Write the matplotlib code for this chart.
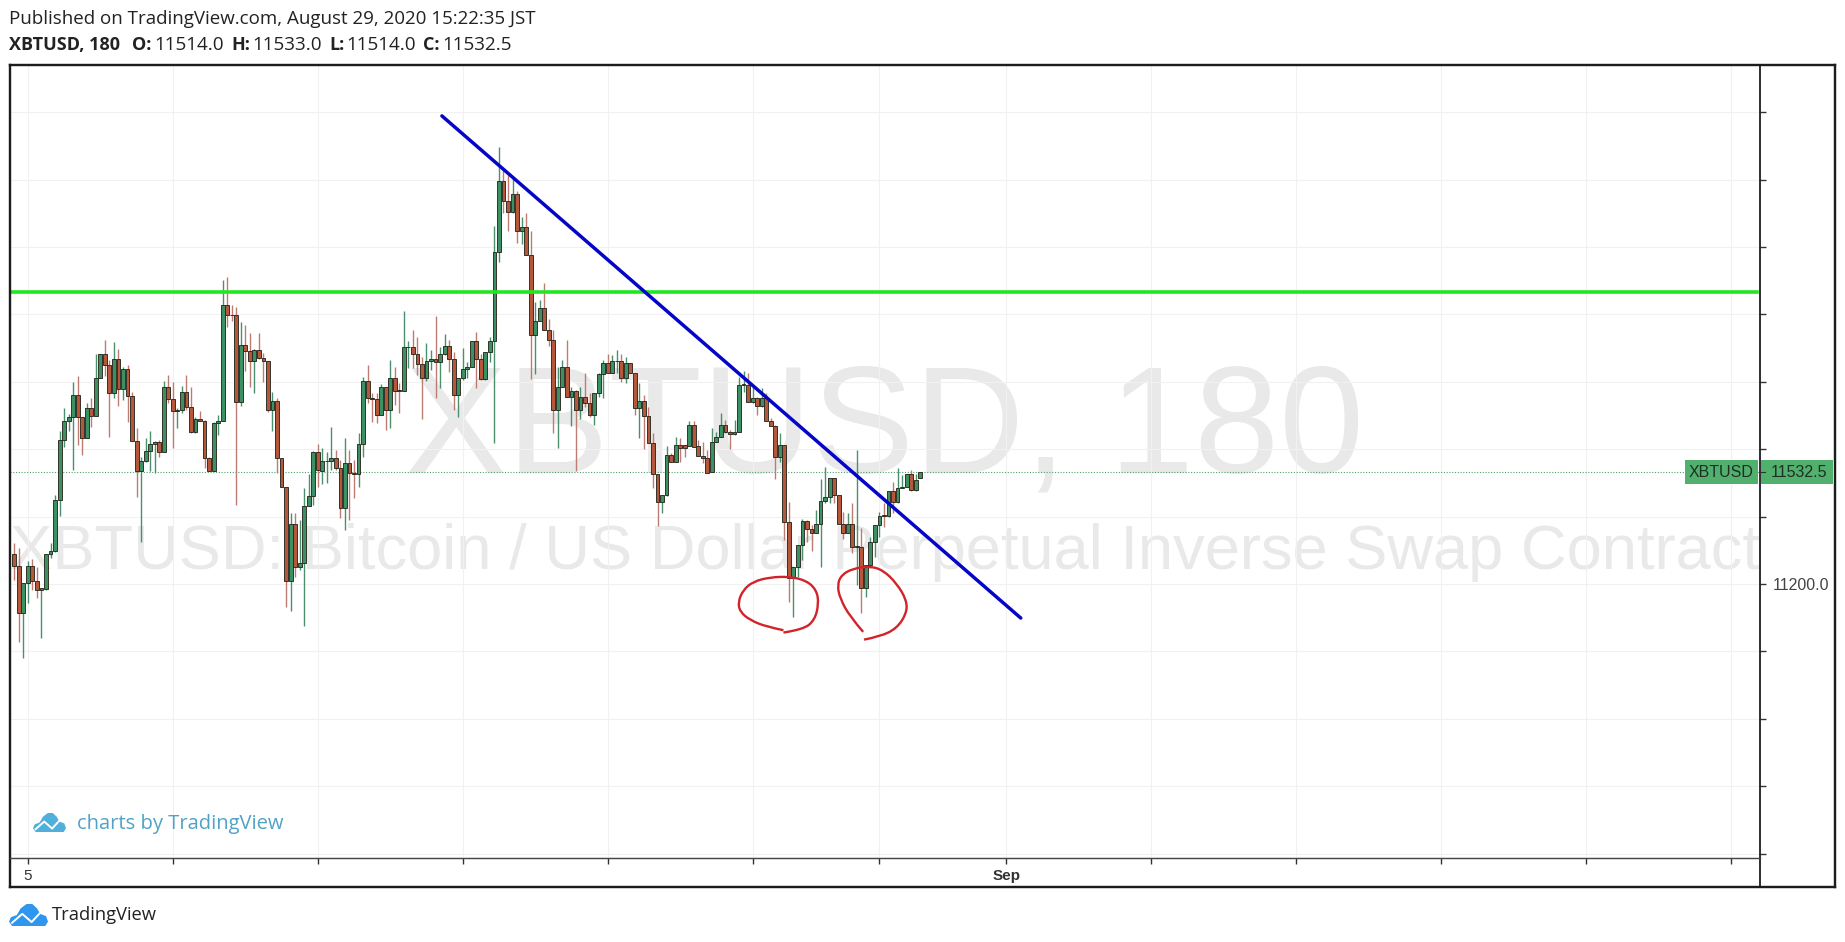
# recreate XBTUSD 180 chart published on TradingView
import matplotlib
matplotlib.use("Agg")
import matplotlib.pyplot as plt
import numpy as np
from matplotlib.patches import Polygon, Rectangle, PathPatch
from matplotlib.path import Path

# %% data

opens = [11289,11254,11115,11204,11254,11208,11183,11185,11289,11298,
         11450,11628,11685,11695,11761,11695,11632,11722,11699,11811,
         11882,11849,11766,11868,11778,11838,11758,11623,11534,11565,
         11596,11615,11620,11591,11784,11748,11712,11717,11771,11725,
         11650,11689,11685,11573,11534,11677,11685,12028,11999,11997,
         11739,11908,11890,11863,11895,11872,11863,11715,11744,11573,
         11489,11209,11377,11250,11262,11432,11462,11593,11536,11564,
         11566,11573,11543,11427,11560,11529,11526,11615,11801,11753,
         11748,11702,11784,11716,11811,11776,11773,11903,11904,11882,
         11853,11812,11863,11867,11858,11883,11907,11867,11761,11811,
         11837,11845,11922,11867,11809,11887,11922,12184,12397,12335,
         12303,12358,12246,12259,12175,11939,11979,12018,11954,11924,
         11715,11786,11845,11756,11774,11715,11756,11738,11702,11766,
         11823,11855,11827,11861,11863,11811,11855,11827,11721,11744,
         11698,11617,11525,11442,11464,11583,11563,11612,11612,11609,
         11673,11609,11581,11573,11532,11622,11637,11672,11652,11644,
         11652,11790,11790,11739,11751,11729,11751,11684,11670,11578,
         11612,11385,11219,11251,11316,11388,11363,11350,11378,11446,
         11457,11516,11464,11377,11350,11377,11311,11311,11187,11256,
         11325,11375,11405,11403,11477,11444,11486,11489,11525,11479,
         11514]

highs = [11321,11306,11204,11267,11274,11250,11188,11289,11321,11465,
         11655,11722,11705,11799,11816,11695,11737,11751,11883,11882,
         11925,11865,11917,11897,11845,11850,11771,11664,11578,11633,
         11655,11625,11628,11801,11821,11798,11722,11788,11821,11784,
         11697,11712,11687,11578,11680,11702,12101,12110,12028,12021,
         11976,11969,11944,11897,11944,11885,11863,11771,11751,11573,
         11489,11410,11410,11390,11486,11526,11596,11616,11603,11593,
         11665,11598,11568,11632,11598,11568,11647,11815,11850,11766,
         11766,11794,11786,11865,11845,11796,12011,11922,11954,11934,
         11875,11914,11895,11994,11904,11941,11924,11889,11811,11900,
         11860,11922,11949,11883,11887,11932,12263,12496,12434,12414,
         12404,12366,12288,12300,12246,12038,12043,12092,11986,11954,
         11845,11865,11924,11786,11776,11786,11825,11766,11766,11825,
         11865,11883,11880,11895,11883,11873,11855,11827,11796,11761,
         11726,11649,11525,11464,11609,11588,11635,11632,11612,11684,
         11684,11627,11622,11598,11662,11652,11708,11687,11657,11687,
         11815,11833,11825,11790,11756,11781,11766,11692,11672,11647,
         11612,11444,11251,11316,11392,11390,11375,11419,11513,11548,
         11516,11516,11464,11415,11410,11441,11598,11365,11256,11340,
         11375,11413,11439,11477,11504,11543,11523,11525,11538,11525,
         11533]

lows = [11212,11029,10980,11145,11183,11158,11039,11183,11277,11296,
        11402,11608,11653,11537,11612,11582,11632,11667,11699,11811,
        11816,11636,11751,11727,11746,11680,11623,11458,11326,11563,
        11536,11529,11578,11591,11737,11603,11662,11707,11717,11648,
        11648,11684,11544,11534,11534,11643,11685,11964,11979,11435,
        11727,11831,11786,11766,11867,11798,11709,11655,11529,11489,
        11131,11121,11222,11242,11076,11430,11435,11487,11497,11499,
        11538,11538,11395,11360,11390,11454,11487,11576,11736,11682,
        11677,11702,11657,11664,11731,11707,11773,11840,11840,11820,
        11689,11801,11835,11751,11781,11880,11830,11715,11697,11806,
        11811,11843,11781,11806,11806,11860,11618,12154,12300,12246,
        12300,12211,12209,12175,11807,11822,11979,11954,11906,11649,
        11603,11786,11756,11669,11536,11689,11726,11695,11672,11756,
        11751,11825,11825,11827,11798,11796,11825,11702,11632,11600,
        11617,11484,11372,11412,11461,11563,11563,11563,11578,11609,
        11607,11581,11558,11528,11532,11622,11637,11649,11602,11642,
        11652,11771,11739,11736,11701,11726,11684,11670,11513,11563,
        11330,11147,11101,11222,11271,11325,11299,11350,11251,11439,
        11439,11439,11377,11335,11350,11291,11197,11113,11162,11251,
        11281,11340,11370,11400,11412,11439,11484,11487,11477,11477,
        11514]

closes = [11254,11115,11204,11254,11208,11183,11188,11289,11298,11450,
          11628,11685,11695,11761,11695,11632,11722,11699,11811,11882,
          11849,11766,11868,11778,11838,11758,11623,11534,11565,11596,
          11615,11620,11591,11784,11748,11712,11717,11771,11725,11650,
          11690,11684,11573,11534,11677,11685,12028,11997,11997,11739,
          11908,11890,11863,11895,11872,11863,11715,11744,11573,11489,
          11209,11377,11250,11262,11432,11462,11593,11539,11566,11566,
          11573,11543,11427,11560,11529,11526,11615,11801,11753,11748,
          11702,11784,11716,11811,11774,11773,11903,11904,11882,11853,
          11812,11863,11867,11858,11883,11907,11867,11761,11811,11837,
          11845,11922,11867,11809,11887,11922,12184,12397,12335,12303,
          12358,12246,12259,12175,11939,11979,12018,11954,11924,11715,
          11786,11845,11756,11774,11715,11756,11738,11702,11766,11823,
          11855,11827,11863,11863,11811,11855,11827,11721,11744,11698,
          11617,11525,11442,11464,11583,11563,11612,11605,11605,11673,
          11607,11581,11573,11530,11622,11637,11672,11652,11644,11652,
          11790,11793,11739,11751,11729,11751,11684,11670,11578,11612,
          11385,11219,11251,11316,11388,11363,11350,11378,11446,11457,
          11516,11464,11377,11350,11377,11311,11313,11187,11256,11325,
          11375,11403,11403,11477,11444,11486,11489,11525,11479,11510,
          11532.5]

last_price = 11532.5
price_ticks = [10400,10600,10800,11000,11200,11400,11600,11800,12000,12200,12400,12600]
price_labels = ['', '', '', '', '11200.0', '', '', '', '', '', '', '']
time_ticks = [3,35,67,99,131,163,191,219,251,283,315,347,379]
time_labels = ['5','','','','','','','Sep','','','','','']

# hand drawn stuff on top of the chart
green_level = 12067
trend_x = [94.4, 222.2]
trend_y = [12589, 11099]
circle1_x = [169.8,166.1,162.4,160.2,159.8,160.9,163.1,166.8,171.2,174.9,177.1,177.6,176.7,174.2,169.8]
circle1_y = [11063,11073,11093,11118,11147,11182,11207,11220,11222,11210,11182,11142,11093,11065,11056]
circle2_x = [187.4,184.5,182.3,181.7,182.6,185.2,188.9,191.8,194.8,197.0,197.0,194.8,191.1,187.6]
circle2_y = [11058,11103,11157,11197,11227,11246,11253,11241,11202,11152,11113,11068,11044,11035]

# %% figure, one axes for the chart and one in plain pixels for the frame and labels

W, H = 1845, 942
L, R, T, B = 10, 1760, 65, 858
GRID = '#f1f1f1'
FRAME = '#1c1c1c'
sans = ['Open Sans', 'DejaVu Sans']
arial = ['Liberation Sans', 'DejaVu Sans']

fig = plt.figure(figsize=(W / 100, H / 100), dpi=100, facecolor='white')
ax = fig.add_axes([L / W, 1 - B / H, (R - L) / W, (B - T) / H])
px = fig.add_axes([0, 0, 1, 1], zorder=5)
px.set_xlim(0, W)
px.set_ylim(H, 0)
px.axis('off')

ax.set_xlim(-0.95, 385.4)
ax.set_ylim(10387, 12740)
ax.set_axisbelow(True)
ax.grid(True, color=GRID, lw=0.8)
for s in ax.spines.values():
    s.set_visible(False)

ax.yaxis.tick_right()
ax.set_yticks(price_ticks)
ax.set_yticklabels(price_labels, fontsize=11.5, color='#444444', family=arial)
ax.tick_params(axis='y', length=4, width=1, color='#333333', pad=5)
ax.set_xticks(time_ticks)
ax.set_xticklabels(time_labels, fontsize=11, color='#333333', family=arial)
ax.tick_params(axis='x', length=4, width=1, color='#333333', pad=4)
ax.get_xticklabels()[7].set_fontweight('bold')

# watermarks
ax.text(885, 472, 'XBTUSD, 180', transform=px.transData, fontsize=110, color='#e9e9e9',
        family=arial, ha='center', va='baseline', zorder=0.5, clip_on=True)
ax.text(885, 569, 'XBTUSD: Bitcoin / US Dollar Perpetual Inverse Swap Contract', transform=px.transData,
        fontsize=45.5, color='#e9e9e9', family=arial, ha='center', va='baseline', zorder=0.5, clip_on=True)

# last price line
ax.axhline(last_price, color='#4f9e6e', lw=0.8, ls=(0, (1, 1.5)), zorder=1)

# candles
x = np.arange(len(opens))
o = np.array(opens)
c = np.array(closes)
up = c >= o
wick_colors = ['#4c8f6c' if u else '#bd7c72' for u in up]
body_colors = ['#3c9164' if u else '#b5573a' for u in up]
ax.vlines(x, lows, highs, colors=wick_colors, lw=1.0, zorder=2)
ax.bar(x, np.maximum(np.abs(c - o), 1.5), bottom=np.minimum(o, c), width=0.85,
       color=body_colors, edgecolor='#2a2a20', linewidth=0.65, zorder=3)

# drawings
ax.axhline(green_level, xmin=0.001, xmax=0.998, color='#22e622', lw=2.6, zorder=4)
ax.plot(trend_x, trend_y, color='#0505c8', lw=2.5, zorder=5, solid_capstyle='round')


def smooth_path(xs, ys):
    # quadratic curves through the midpoints, so the pen strokes look round
    pts = list(zip(xs, ys))
    verts = [pts[0]]
    codes = [Path.MOVETO]
    for i in range(1, len(pts) - 1):
        mid = ((pts[i][0] + pts[i + 1][0]) / 2, (pts[i][1] + pts[i + 1][1]) / 2)
        if i == len(pts) - 2:
            mid = pts[i + 1]
        verts += [pts[i], mid]
        codes += [Path.CURVE3, Path.CURVE3]
    return Path(verts, codes)


for xs, ys in [(circle1_x, circle1_y), (circle2_x, circle2_y)]:
    ax.add_patch(PathPatch(smooth_path(xs, ys), fill=False, edgecolor='#d2232a', lw=1.7, zorder=6))

# %% frame
for xs, ys, lw, col in [([L, 1835], [T, T], 2, FRAME),
                        ([L, L], [T, 887], 2, FRAME),
                        ([L, 1835], [887, 887], 2, FRAME),
                        ([1835, 1835], [T, 887], 2, FRAME),
                        ([R, R], [T, 887], 1.5, FRAME),
                        ([L, R], [B, B], 1.2, '#444444')]:
    px.plot(xs, ys, color=col, lw=lw * 0.72 * 1.2, solid_capstyle='projecting')

# price labels on the right
label_green = '#52b06f'
px.add_patch(Rectangle((1685, 460), 73, 24, color=label_green, lw=0))
px.add_patch(Rectangle((1761, 460), 72, 24, color=label_green, lw=0))
px.text(1721, 472.5, 'XBTUSD', fontsize=11.5, color='#1d2f24', family=arial, ha='center', va='center')
px.text(1799, 472.5, '11532.5', fontsize=11.5, color='#1d2f24', family=arial, ha='center', va='center')
px.plot([1760, 1765], [472, 472], color='#333333', lw=0.8)

# %% header
px.text(9, 19.5, 'Published on TradingView.com, August 29, 2020 15:22:35 JST', fontsize=13.5,
        color='#222222', family=sans, va='center')
for xpos, txt, weight in [(9, 'XBTUSD, 180', 'bold'), (132, 'O:', 'bold'), (154, '11514.0', 'normal'),
                          (231, 'H:', 'bold'), (252, '11533.0', 'normal'), (329, 'L:', 'bold'),
                          (346, '11514.0', 'normal'), (423, 'C:', 'bold'), (442, '11532.5', 'normal')]:
    size = 13 if weight == 'bold' else 13.6
    px.text(xpos, 45, txt, fontsize=size, color='#222222', family=sans, fontweight=weight, va='center')


# %% logos
def cloud(x0, y0, w, h, color):
    outline = np.array([(0.0, 0.8), (0.05, 0.6), (0.2, 0.5), (0.3, 0.2), (0.45, 0.0), (0.6, 0.0), (0.72, 0.2),
                        (0.8, 0.45), (0.95, 0.55), (1.0, 0.8), (0.93, 1.0), (0.08, 1.0)])
    zig = np.array([(0.08, 0.85), (0.34, 0.45), (0.58, 0.82), (0.8, 0.4)])
    px.add_patch(Polygon(np.c_[x0 + outline[:, 0] * w, y0 + outline[:, 1] * h], closed=True, color=color, lw=0))
    px.plot(x0 + zig[:, 0] * w, y0 + zig[:, 1] * h, color='white', lw=1.4)


cloud(33, 813, 33, 19, '#4fb0dc')
px.text(77, 824, 'charts by TradingView', fontsize=14.5, color='#4fa3c4', family=sans, va='center')
cloud(9, 904, 39, 22, '#2f96ef')
px.text(52, 915, 'TradingView', fontsize=13.2, color='#222222', family=sans, va='center')

fig.savefig('out.png', dpi=100, facecolor='white')
